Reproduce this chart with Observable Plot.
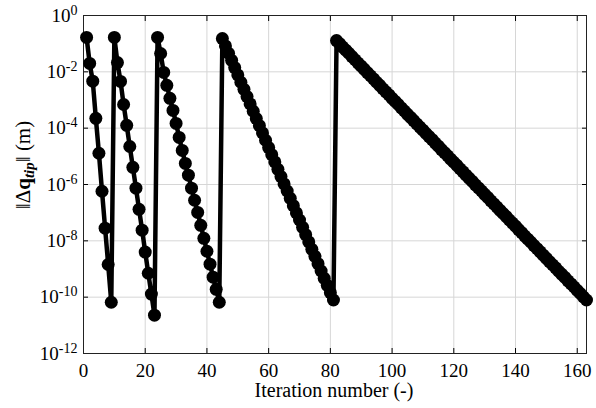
<!DOCTYPE html>
<html><head><meta charset="utf-8">
<script src="https://cdn.jsdelivr.net/npm/d3@7"></script>
<script src="https://cdn.jsdelivr.net/npm/@observablehq/plot@0.6"></script>
<style>
html,body{margin:0;padding:0;background:#fff;font-family:'Liberation Serif';}
#chart svg text {font-family:'Liberation Serif';}
</style>
</head><body><div id="chart"></div>
<script>
// First iteration number of each Newton solve segment
const segmentStarts = [1, 10, 24, 45, 82];

// log10 of ||Δq_tip|| (m), one value per iteration
const seg1 = [-0.78, -1.70, -2.33, -3.65, -4.89, -6.24, -7.55, -8.84, -10.18];
const seg2 = [-0.78, -1.67, -2.34, -3.16, -3.90, -4.65, -5.39, -6.13, -6.88, -7.62, -8.40, -9.15, -9.89, -10.64];
const seg3 = [-0.78, -1.35, -2.02, -2.48, -2.94, -3.37, -3.83, -4.33, -4.79, -5.25, -5.67, -6.13, -6.56, -6.99, -7.45, -7.91, -8.37, -8.83, -9.29, -9.72, -10.18];
const seg4 = [-0.82, -1.08, -1.34, -1.59, -1.85, -2.11, -2.37, -2.62, -2.88, -3.14, -3.40, -3.66, -3.91, -4.17, -4.43, -4.69, -4.94, -5.20, -5.46, -5.72, -5.98, -6.23, -6.49, -6.75, -7.01, -7.26, -7.52, -7.78, -8.04, -8.30, -8.55, -8.81, -9.07, -9.33, -9.58, -9.84, -10.10];
const seg5 = [-0.89, -1.00, -1.12, -1.23, -1.34, -1.46, -1.57, -1.69, -1.80, -1.91, -2.03, -2.14, -2.25, -2.37, -2.48, -2.60, -2.71, -2.82, -2.94, -3.05, -3.16, -3.28, -3.39, -3.51, -3.62, -3.73, -3.85, -3.96, -4.07, -4.19, -4.30, -4.41, -4.53, -4.64, -4.76, -4.87, -4.98, -5.10, -5.21, -5.32, -5.44, -5.55, -5.67, -5.78, -5.89, -6.01, -6.12, -6.23, -6.35, -6.46, -6.58, -6.69, -6.80, -6.92, -7.03, -7.14, -7.26, -7.37, -7.48, -7.60, -7.71, -7.83, -7.94, -8.05, -8.17, -8.28, -8.39, -8.51, -8.62, -8.74, -8.85, -8.96, -9.08, -9.19, -9.30, -9.42, -9.53, -9.64, -9.76, -9.87, -9.99, -10.10];

const xTicks = [0, 20, 40, 60, 80, 100, 120, 140, 160];
const yTickExponents = [0, -2, -4, -6, -8, -10, -12];
const xLabel = "Iteration number (-)";

const segments = [seg1, seg2, seg3, seg4, seg5];
const data = segments.flatMap((seg, s) => seg.map((e, i) => ({iter: segmentStarts[s] + i, value: Math.pow(10, e)})));
const yTicks = yTickExponents.map(e => Math.pow(10, e));

const FONT = "Liberation Serif";

const plot = Plot.plot({
  width: 596, height: 408,
  marginLeft: 83, marginRight: 10, marginTop: 15, marginBottom: 55,
  style: {fontFamily: FONT, fontSize: "19px", color: "#000", background: "#fff"},
  x: {domain: [0, 163]},
  y: {type: "log", domain: [1e-12, 1]},
  marks: [
    Plot.gridX(xTicks, {stroke: "#d6d6d6", strokeOpacity: 1}),
    Plot.gridY(yTicks, {stroke: "#d6d6d6", strokeOpacity: 1}),
    Plot.axisX(xTicks, {anchor: "bottom", tickSize: -5, tickPadding: 15, label: null}),
    Plot.axisX(xTicks, {anchor: "top", tickSize: -5, tickFormat: () => "", label: null}),
    Plot.axisY(yTicks, {anchor: "left", tickSize: -5, tickPadding: 11, tickFormat: d => String(Math.round(Math.log10(d))), label: null}),
    Plot.axisY(yTicks, {anchor: "right", tickSize: -5, tickFormat: () => "", label: null}),
    Plot.frame({stroke: "#222", strokeWidth: 1}),
    Plot.line(data, {x: "iter", y: "value", stroke: "#000", strokeWidth: 4.5}),
    Plot.dot(data, {x: "iter", y: "value", r: 6.5, fill: "#000"})
  ]
});

const svg = d3.select(plot);
// superscript exponents on y tick labels
svg.selectAll('g[aria-label="y-axis tick label"] text').each(function() {
  const t = d3.select(this);
  const e = t.text();
  if (!e) return;
  t.text("10");
  t.append("tspan").attr("dy", "-7px").attr("font-size", "14px").text(e);
});

// x-axis label
svg.append("text")
  .attr("x", 334).attr("y", 397)
  .attr("text-anchor", "middle")
  .attr("font-family", FONT).attr("font-size", "20px").attr("fill", "#000")
  .text(xLabel);

// y-axis label: ‖Δq_tip‖ (m)
const yl = svg.append("text")
  .attr("transform", "translate(30,165) rotate(-90)")
  .attr("text-anchor", "middle")
  .attr("font-family", FONT).attr("font-size", "21px").attr("fill", "#000");
yl.append("tspan").text("\u2016\u0394");
yl.append("tspan").attr("font-weight", "bold").text("q");
yl.append("tspan").attr("font-style", "italic").attr("font-weight", "bold").attr("font-size", "15px").attr("dy", "4px").text("tip");
yl.append("tspan").attr("dy", "-4px").text("\u2016 (m)");

document.getElementById("chart").appendChild(plot);
</script>
</body></html>
